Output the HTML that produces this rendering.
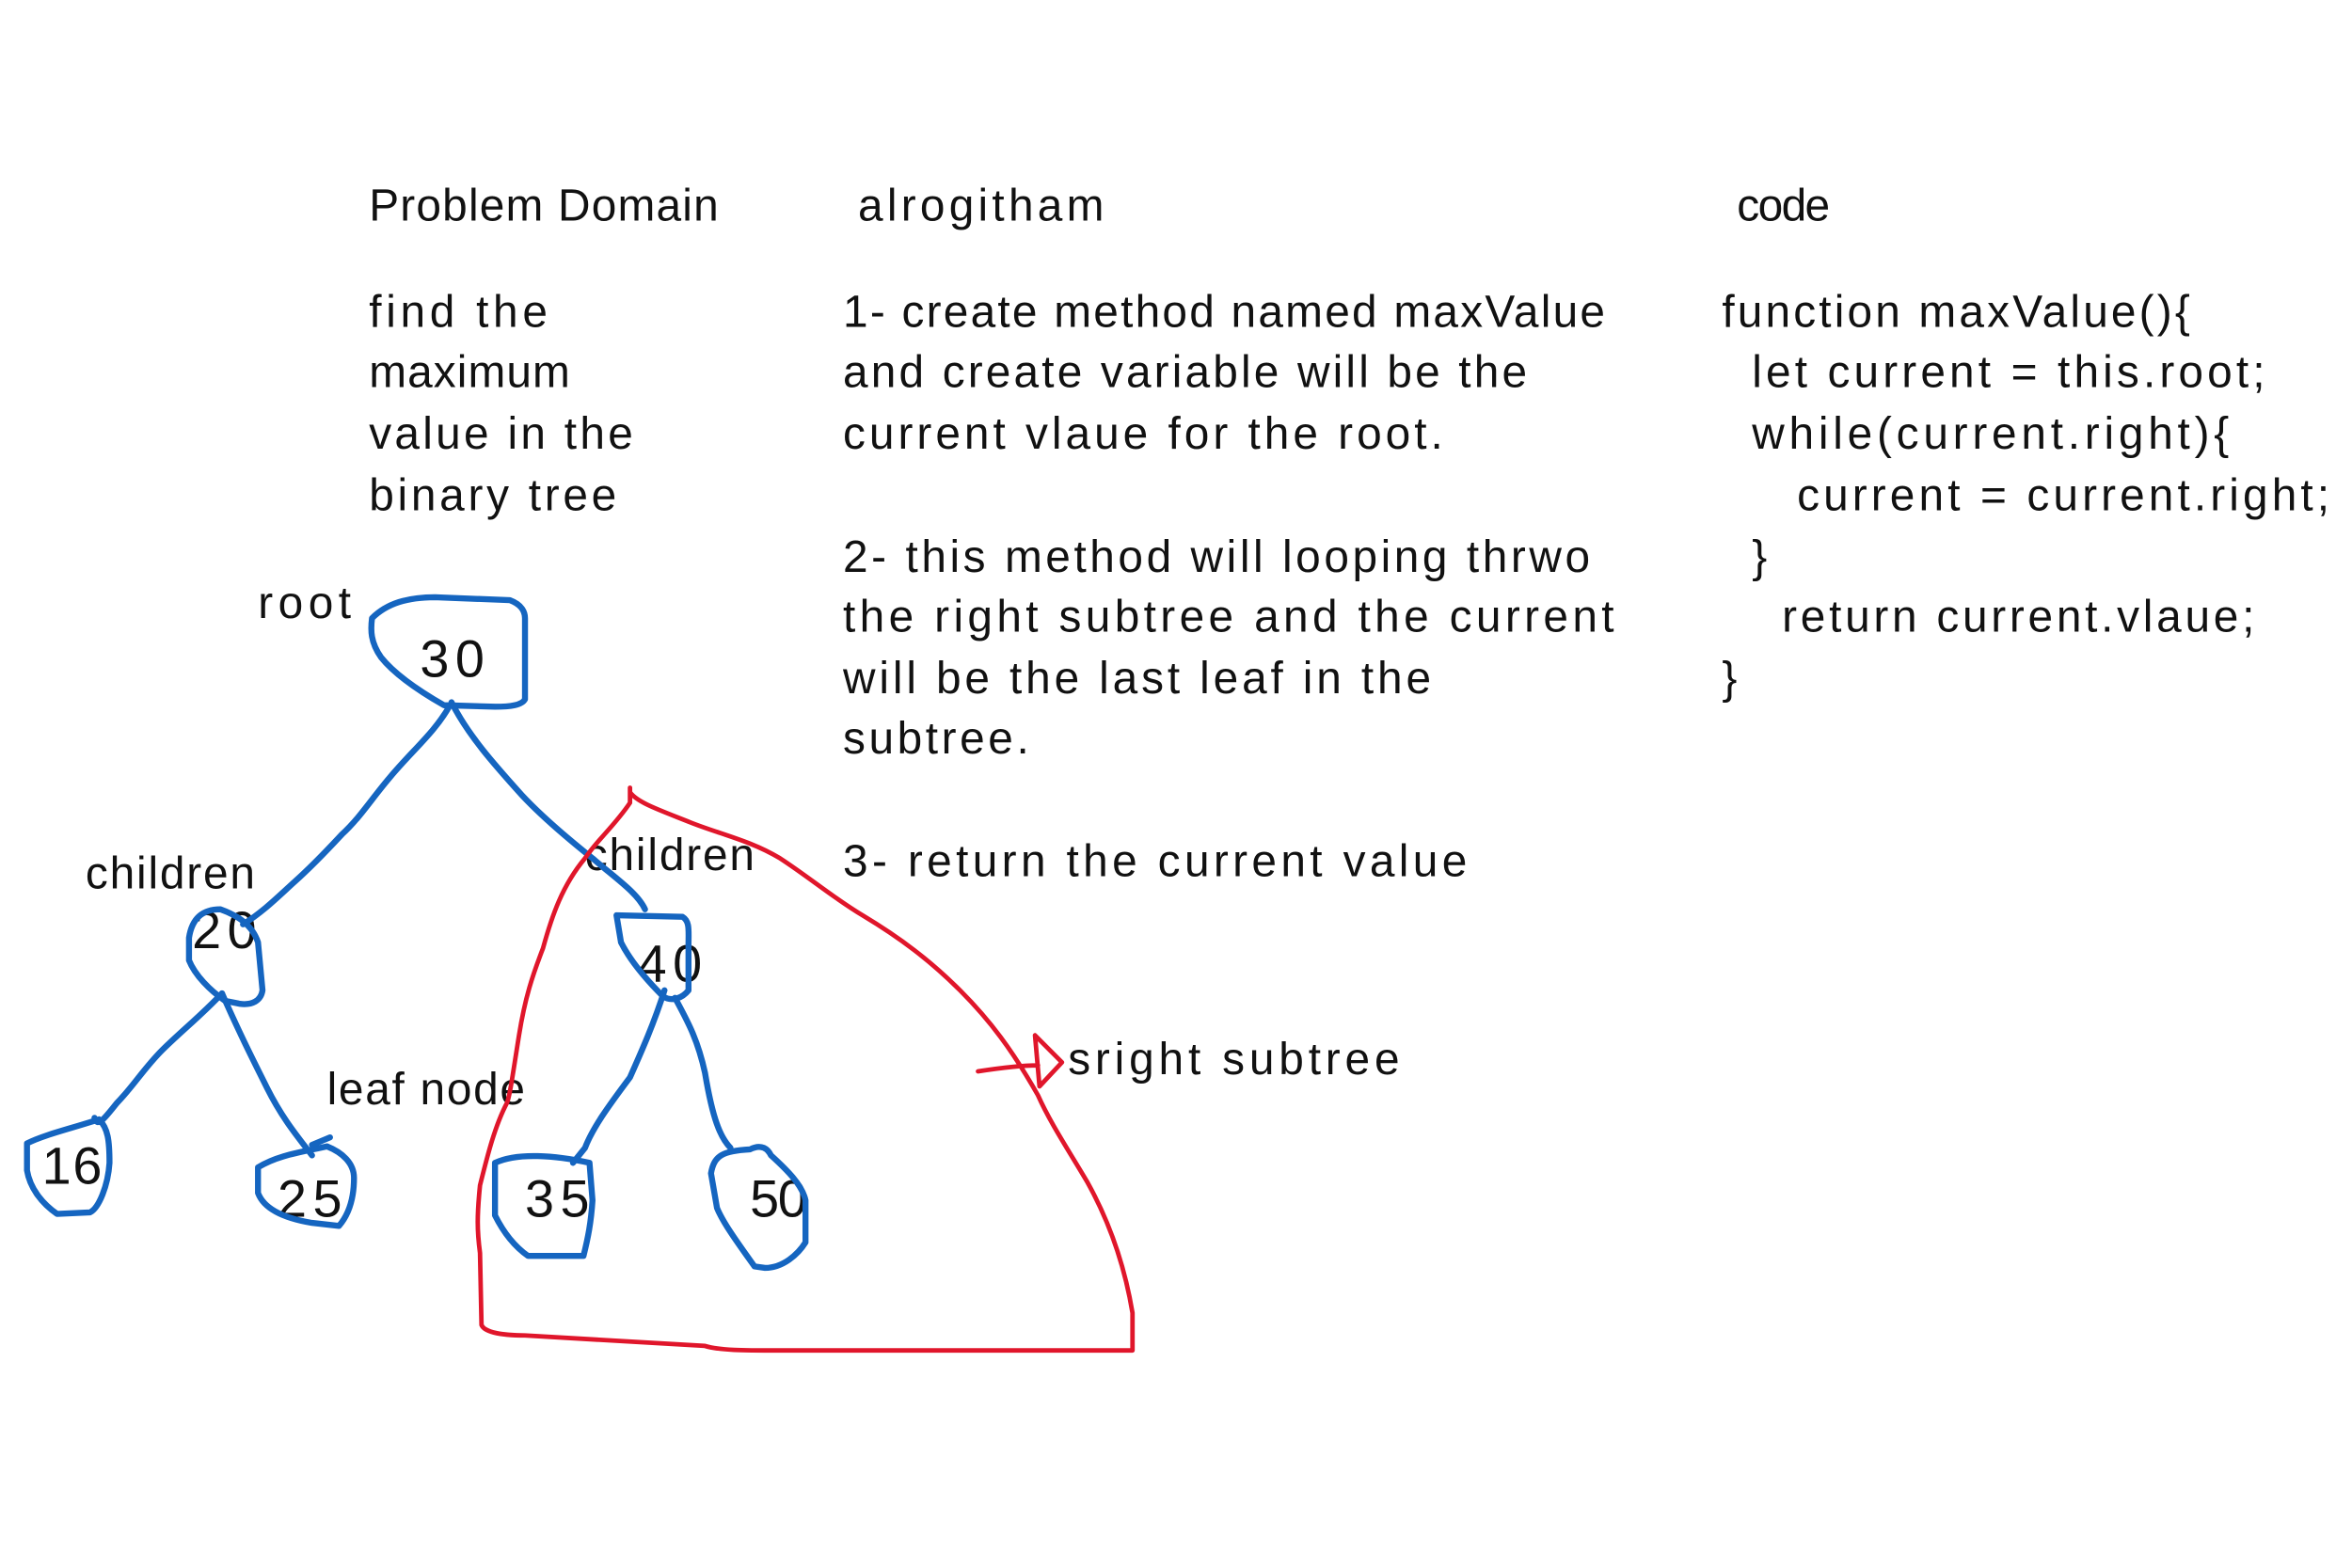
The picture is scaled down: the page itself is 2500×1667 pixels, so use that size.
<!DOCTYPE html>
<html><head><meta charset="utf-8"><style>
html,body{margin:0;padding:0;background:#fff;}
svg{display:block;}
text{font-family:"Liberation Sans",sans-serif;font-size:30px;fill:#111;}
.n{font-size:35px;}
.b{fill:none;stroke:#1565c0;stroke-width:4;stroke-linecap:round;stroke-linejoin:round;}
.r{fill:none;stroke:#e0162b;stroke-width:3;stroke-linecap:round;stroke-linejoin:round;}
</style></head><body>
<svg width="2500" height="1667" viewBox="0 0 1568 1045" preserveAspectRatio="none" xmlns="http://www.w3.org/2000/svg">
<rect width="1568" height="1045" fill="#fff"/>
<text x="246" y="147" textLength="233">Problem Domain</text>
<text x="572" y="147" textLength="164">alrogitham</text>
<text x="1158" y="147" textLength="62">code</text>

<text x="246" y="218" textLength="119">find the</text>
<text x="246" y="258" textLength="134">maximum</text>
<text x="246" y="299" textLength="176">value in the</text>
<text x="246" y="340" textLength="165">binary tree</text>

<text x="562" y="218" textLength="508">1- create method named maxValue</text>
<text x="562" y="258" textLength="456">and create variable will be the</text>
<text x="562" y="299" textLength="400">current vlaue for the root.</text>
<text x="562" y="381" textLength="498">2- this method will looping thrwo</text>
<text x="562" y="421" textLength="514">the right subtree and the current</text>
<text x="562" y="462" textLength="392">will be the last leaf in the</text>
<text x="562" y="502" textLength="124">subtree.</text>
<text x="562" y="584" textLength="416">3- return the current value</text>

<text x="1148" y="218" textLength="312">function maxValue(){</text>
<text x="1168" y="258" textLength="342">let current = this.root;</text>
<text x="1168" y="299" textLength="318">while(current.right){</text>
<text x="1198" y="340" textLength="355">current = current.right;</text>
<text x="1168" y="381">}</text>
<text x="1188" y="421" textLength="315">return current.vlaue;</text>
<text x="1148" y="462">}</text>

<text x="172" y="412" textLength="62">root</text>
<text x="57" y="592" textLength="113">children</text>
<text x="390" y="580" textLength="113">children</text>
<text x="218" y="736" textLength="132">leaf node</text>
<text x="712" y="716" textLength="221">sright subtree</text>

<text class="n" x="280" y="451" textLength="43">30</text>
<text class="n" x="128" y="632" textLength="43">20</text>
<text class="n" x="425" y="654" textLength="43">40</text>
<text class="n" x="28" y="789" textLength="40">16</text>
<text class="n" x="185" y="811" textLength="43">25</text>
<text class="n" x="350" y="811" textLength="43">35</text>
<text class="n" x="500" y="811" textLength="38">50</text>

<path class="b" d="M248,412 C258,402 272,398 290,398 L340,400 C348,403 350,408 350,412 L350,466 C348,470 340,471 330,471 L296,470 C275,458 262,448 254,438 C247,428 247,420 248,412Z"/>
<path class="b" d="M126,625 C128,612 135,606 147,606 C158,610 168,616 172,628 L175,660 C174,667 168,670 160,669 L150,667 C140,660 130,650 126,640Z"/>
<path class="b" d="M411,610 L455,611 C460,614 459,620 459,630 L459,660 C455,665 448,668 442,664 C430,652 420,640 414,628 Z"/>
<path class="b" d="M18,762 C30,756 48,752 66,746 C72,752 73,760 73,775 C72,790 66,805 60,808 L38,809 C28,802 20,792 18,780Z"/>
<path class="b" d="M172,778 C185,770 200,768 218,764 C228,768 236,775 236,785 C236,800 232,810 226,817 L208,815 C190,812 176,806 172,795Z"/>
<path class="b" d="M330,775 C345,768 370,770 393,775 L395,800 C394,815 392,825 389,837 L352,837 C342,830 335,820 330,810 Z"/>
<path class="b" d="M474,782 C476,770 482,767 500,766 C508,762 512,766 514,770 C525,780 535,790 537,800 L537,828 C532,836 522,845 510,845 L503,844 C493,830 482,815 478,805 Z"/>

<path class="b" d="M300,470 C290,488 275,500 260,518 C248,532 240,545 228,556 C215,570 205,580 196,588 C185,598 175,608 162,616"/>
<path class="b" d="M301,468 C312,490 330,510 348,530 C362,545 380,560 395,572 C410,585 425,595 430,606"/>
<path class="b" d="M148,662 C135,676 120,688 108,700 C96,712 88,725 78,735 C70,745 65,752 63,745"/>
<path class="b" d="M148,662 C158,685 168,705 178,725 C188,745 198,757 208,770 M208,763 L220,758"/>
<path class="b" d="M443,660 C436,682 428,700 420,718 C405,738 395,752 390,765 L382,775"/>
<path class="b" d="M450,665 C458,680 465,692 470,715 C475,745 480,758 487,765"/>

<path class="r" d="M420,525 L420,535 C410,550 398,560 390,572 C375,590 368,610 362,632 C355,650 350,665 346,690 C342,715 340,730 338,735 C330,750 325,770 320,790 C318,810 318,820 320,835 L321,883 C323,888 335,890 350,890 C400,893 440,895 470,897 C480,900 495,900 520,900 L755,900 L755,875 C750,845 740,815 725,788 C712,766 700,748 692,730 C675,700 660,680 640,660 C620,640 600,625 575,610 C555,598 540,585 520,572 C500,560 480,556 460,548 C440,540 425,535 420,528"/>
<path class="r" d="M652,714 C665,712 680,710 692,710 M690,690 L708,708 L693,724 L690,690"/>
</svg>
</body></html>
